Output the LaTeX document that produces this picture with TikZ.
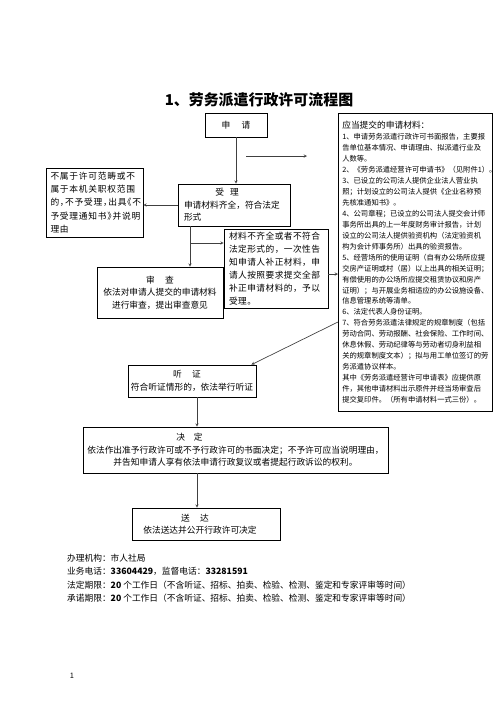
\documentclass[tikz,border=0pt]{standalone}
\usepackage{fontspec}
\setmainfont{Noto Sans CJK SC}
\newfontfamily\spacedcjk[LetterSpace=9,RawFeature=+halt]{Noto Sans CJK SC}
\newfontfamily\loosecjk[LetterSpace=5]{Noto Sans CJK SC}
\newlength\pxu
\setlength\pxu{0.4234mm}

\begin{document}
\begin{tikzpicture}[
    x=\pxu, y=-\pxu,
    box/.style={
        rectangle,
        draw,
        line width=0.7pt,
        inner sep=0pt,
        font=\fontsize{10.5}{15}\selectfont
    },
    arrow/.style={->, >=stealth, line width=0.8pt, black!75},
    link/.style={line width=0.8pt, black!75},
    note/.style={anchor=west, inner sep=0pt, font=\fontsize{10.5}{13}\selectfont}
]

\fill[white] (0,0) rectangle (496,702);
\useasboundingbox (0,0) rectangle (496,702);

\node[font=\bfseries\fontsize{18}{22}\selectfont] (title) at (259,100) {1、劳务派遣行政许可流程图};

\node[box, minimum width=62\pxu, minimum height=24\pxu] (apply) at (236,125) {申\hspace{1.3em}请};

\node[box, minimum width=112\pxu, minimum height=42\pxu, align=left, text width=100\pxu] (accept) at (234,205)
    {\hspace*{3.6em}受\hspace{0.7em}理\\申请材料齐全，符合法定\\形式};

\node[box, minimum width=97\pxu, minimum height=69\pxu, align=left, text width=88\pxu,
    font=\spacedcjk\fontsize{10.5}{16}\selectfont] (reject) at (94.5,202.5)
    {不属于许可范畴或不\\属于本机关职权范围\\的，不予受理，出具《不\\予受理通知书》并说明\\理由};

\node[box, minimum width=104\pxu, minimum height=79\pxu, align=left, text width=94\pxu,
    font=\loosecjk\fontsize{10.5}{15.6}\selectfont] (supply) at (276,268.5)
    {材料不齐全或者不符合\\法定形式的，一次性告\\知申请人补正材料，申\\请人按照要求提交全部\\补正申请材料的，予以\\受理。};

\node[box, minimum width=126\pxu, minimum height=51\pxu, align=center] (review) at (160,292.5)
    {审\hspace{1.2em}查\\依法对申请人提交的申请材料\\进行审查，提出审查意见};

\node[box, minimum width=128\pxu, minimum height=32\pxu, align=center] (hearing) at (192,381)
    {听\hspace{1.2em}证\hspace*{10\pxu}\\符合听证情形的，依法举行听证};

\node[box, minimum width=305\pxu, minimum height=46\pxu, align=center] (decide) at (235.5,450)
    {决\hspace{1em}定\hspace*{92\pxu}\\依法作出准予行政许可或不予行政许可的书面决定；不予许可应当说明理由，\\并告知申请人享有依法申请行政复议或者提起行政诉讼的权利。};

\node[box, minimum width=148\pxu, minimum height=32\pxu, align=center] (deliver) at (206,524)
    {送\hspace{1.2em}达\hspace*{22\pxu}\\依法送达并公开行政许可决定\hspace*{12\pxu}};

\node[box, anchor=north west, minimum width=154\pxu, minimum height=298\pxu, align=left, text width=146\pxu,
    font=\fontsize{8.8}{13.2}\selectfont] (materials) at (338,113)
    {{\fontsize{10.5}{13.2}\selectfont 应当提交的申请材料：}\\
    1、申请劳务派遣行政许可书面报告，主要报\\
    告单位基本情况、申请理由、拟派遣行业及\\
    人数等。\\
    2、《劳务派遣经营许可申请书》（见附件1）。\\
    3、已设立的公司法人提供企业法人营业执\\
    照；计划设立的公司法人提供《企业名称预\\
    先核准通知书》。\\
    4、公司章程；已设立的公司法人提交会计师\\
    事务所出具的上一年度财务审计报告，计划\\
    设立的公司法人提供验资机构（法定验资机\\
    构为会计师事务所）出具的验资报告。\\
    5、经营场所的使用证明（自有办公场所应提\\
    交房产证明或村（居）以上出具的相关证明；\\
    有偿使用的办公场所应提交租赁协议和房产\\
    证明）；与开展业务相适应的办公设施设备、\\
    信息管理系统等清单。\\
    6、法定代表人身份证明。\\
    7、符合劳务派遣法律规定的规章制度（包括\\
    劳动合同、劳动报酬、社会保险、工作时间、\\
    休息休假、劳动纪律等与劳动者切身利益相\\
    关的规章制度文本）；拟与用工单位签订的劳\\
    务派遣协议样本。\\
    其中《劳务派遣经营许可申请表》应提供原\\
    件，其他申请材料出示原件并经当场审查后\\
    提交复印件。（所有申请材料一式三份）。};

% connectors
\coordinate (hintA) at (246,156);
\coordinate (hintB) at (307,156);
\coordinate (fork) at (190,243);
\coordinate (toMat) at (0,274);
\coordinate (fromMat) at (0,322);
\coordinate (mid) at (197,0);

\draw[arrow] (apply.south) -- (apply.south |- accept.north);
\draw[arrow] (hintA) -- (hintB);
\draw[arrow] (accept.west) -- (accept.west -| reject.east);
\draw[link] (accept.south -| fork) -- (fork);
\draw[arrow] (fork) -- (review.north -| fork);
\draw[arrow] (fork) -- (fork -| supply.west);
\draw[arrow] (supply.east |- toMat) -- (materials.west |- toMat);
\draw[arrow] (materials.west |- fromMat) -- ([xshift=-5\pxu]hearing.north east);
\draw[arrow] (hearing.south -| mid) -- (decide.north -| mid);
\draw[arrow] (decide.south -| mid) -- (deliver.north -| mid);

% footer text
\node[note] (office) at (67,558) {办理机构：市人社局};
\node[note] (phone) at (67,571) {业务电话：\textbf{33604429}，监督电话：\textbf{33281591}};
\node[note] (legal) at (67,585) {法定期限：\textbf{20} 个工作日（不含听证、招标、拍卖、检验、检测、鉴定和专家评审等时间）};
\node[note] (promise) at (67,598) {承诺期限：\textbf{20} 个工作日（不含听证、招标、拍卖、检验、检测、鉴定和专家评审等时间）};
\node[font=\fontsize{9}{10}\selectfont] (page) at (72,676) {1};

\end{tikzpicture}
\end{document}
